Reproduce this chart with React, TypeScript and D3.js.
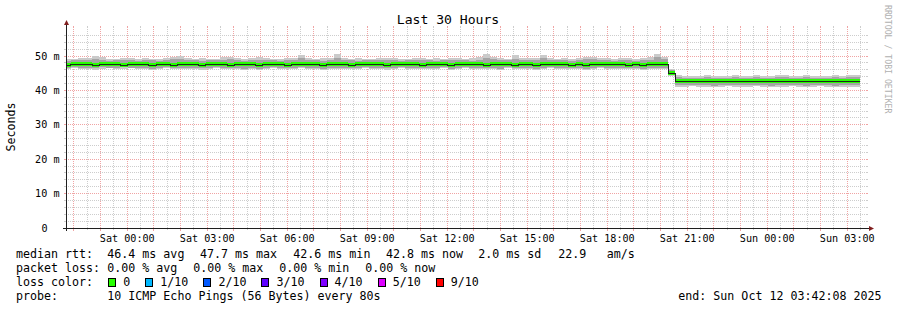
import React from "react";
import * as d3 from "d3";

// ---------- data ----------
const START = Date.UTC(2025, 9, 10, 21, 42, 8);
const END = Date.UTC(2025, 9, 12, 3, 42, 8);
const FIRST_BIN = Date.UTC(2025, 9, 10, 21, 36, 44);
const BIN_MS = 960 * 1000;

// median rtt per 16-minute bin (ms)
const medianRtt = [
  47.5, 47.7, 47.6, 47.6, 47.4, 47.6, 47.7, 47.6, 47.5, 47.6,
  47.6, 47.7, 47.4, 47.6, 47.6, 47.5, 47.7, 47.6, 47.6, 47.4,
  47.6, 47.6, 47.7, 47.5, 47.6, 47.6, 47.6, 47.4, 47.6, 47.7,
  47.6, 47.5, 47.6, 47.6, 47.7, 47.6, 47.4, 47.6, 47.6, 47.6,
  47.5, 47.6, 47.7, 47.6, 47.6, 47.4, 47.6, 47.6, 47.7, 47.6,
  47.5, 47.6, 47.6, 47.6, 47.4, 47.6, 47.7, 47.6, 47.6, 47.5,
  47.6, 47.6, 47.7, 47.5, 47.6, 47.6, 47.4, 47.6, 47.6, 47.7,
  47.6, 47.5, 47.6, 47.4, 47.6, 47.6, 47.7, 47.6, 47.6, 47.5,
  47.6, 47.4, 47.6, 47.7, 47.6,
  45.2,
  42.7, 42.6, 42.7, 42.7, 42.8, 42.6, 42.7, 42.7, 42.7, 42.6,
  42.8, 42.7, 42.7, 42.6, 42.7, 42.7, 42.8, 42.7, 42.6, 42.7,
  42.7, 42.7, 42.6, 42.7, 42.7, 42.8,
];

// smoke: outer pair (ping 1 / ping 10)
const smokeOuterHi = [
  49.1, 49.2, 49.3, 49.5, 50.0, 49.6, 49.2, 49.1, 49.3, 49.4,
  49.2, 49.3, 49.1, 49.2, 49.4, 49.8, 50.1, 49.4, 49.2, 49.3,
  49.1, 49.2, 49.6, 49.7, 49.3, 49.2, 49.4, 49.6, 49.5, 49.2,
  49.1, 49.3, 49.5, 50.4, 49.4, 49.2, 49.3, 49.4, 50.6, 49.5,
  49.2, 49.3, 49.1, 49.2, 49.4, 49.5, 49.3, 49.2, 49.1, 49.3,
  49.4, 49.2, 49.3, 49.2, 49.4, 49.5, 49.2, 49.3, 49.6, 50.5,
  49.7, 49.3, 49.2, 50.2, 49.4, 49.3, 49.5, 50.3, 49.4, 49.2,
  49.3, 49.2, 49.4, 49.7, 49.8, 49.5, 49.3, 49.2, 49.3, 49.5,
  49.2, 49.4, 49.6, 50.6, 49.8,
  46.1,
  44.4, 44.2, 44.3, 44.2, 44.4, 44.3, 44.1, 44.2, 44.5, 44.3,
  44.2, 44.4, 44.3, 44.2, 44.5, 44.4, 44.2, 44.3, 44.4, 44.2,
  44.3, 44.2, 44.4, 44.3, 44.5, 44.4,
];
const smokeOuterLo = [
  46.3, 46.4, 46.2, 46.1, 46.0, 46.3, 46.4, 46.2, 46.3, 46.4,
  46.2, 46.3, 46.0, 46.3, 46.4, 46.2, 46.3, 46.1, 46.3, 46.0,
  46.3, 46.4, 46.2, 46.1, 46.3, 46.0, 46.2, 46.0, 46.3, 46.4,
  46.3, 46.1, 46.3, 46.4, 46.1, 46.3, 45.9, 46.3, 46.1, 46.3,
  46.1, 46.3, 46.4, 46.3, 46.2, 46.0, 46.3, 46.4, 46.3, 46.2,
  46.1, 46.3, 46.3, 46.4, 46.0, 46.3, 46.4, 46.2, 46.3, 46.1,
  46.3, 46.0, 46.4, 46.1, 46.3, 46.2, 46.0, 46.3, 46.4, 46.3,
  46.2, 46.1, 46.3, 46.0, 46.3, 46.4, 46.3, 46.2, 46.3, 46.1,
  46.3, 46.0, 46.2, 46.3, 46.2,
  44.3,
  41.1, 41.0, 41.2, 41.1, 41.0, 40.9, 41.1, 41.2, 41.0, 40.9,
  41.1, 41.2, 41.0, 40.9, 41.1, 41.0, 41.2, 40.9, 40.9, 41.1,
  41.2, 41.0, 40.9, 41.1, 40.9, 41.0,
];
// smoke: second pair (ping 2 / ping 9)
const smokeMidHi = [
  48.6, 48.7, 48.7, 48.9, 49.2, 48.8, 48.6, 48.7, 48.8, 48.7,
  48.6, 48.8, 48.7, 48.6, 48.8, 49.0, 49.1, 48.8, 48.7, 48.6,
  48.7, 48.7, 48.9, 49.0, 48.7, 48.6, 48.8, 48.9, 48.8, 48.7,
  48.6, 48.7, 48.8, 49.4, 48.8, 48.7, 48.6, 48.8, 49.5, 48.9,
  48.7, 48.6, 48.7, 48.7, 48.8, 48.9, 48.7, 48.6, 48.7, 48.8,
  48.7, 48.7, 48.6, 48.7, 48.8, 48.8, 48.7, 48.6, 48.9, 49.4,
  49.0, 48.7, 48.7, 49.2, 48.8, 48.7, 48.8, 49.3, 48.8, 48.7,
  48.7, 48.6, 48.8, 49.0, 49.0, 48.8, 48.7, 48.6, 48.7, 48.9,
  48.6, 48.7, 48.9, 49.6, 49.1,
  45.8,
  43.8, 43.7, 43.7, 43.6, 43.8, 43.7, 43.6, 43.7, 43.9, 43.7,
  43.7, 43.8, 43.7, 43.6, 43.9, 43.8, 43.7, 43.7, 43.8, 43.7,
  43.7, 43.6, 43.8, 43.7, 43.9, 43.8,
];
const smokeMidLo = [
  46.6, 46.7, 46.5, 46.6, 46.4, 46.7, 46.6, 46.5, 46.7, 46.6,
  46.5, 46.6, 46.3, 46.6, 46.7, 46.5, 46.6, 46.4, 46.6, 46.4,
  46.6, 46.7, 46.5, 46.4, 46.6, 46.3, 46.5, 46.3, 46.6, 46.7,
  46.6, 46.4, 46.6, 46.7, 46.5, 46.6, 46.3, 46.6, 46.5, 46.6,
  46.4, 46.6, 46.7, 46.6, 46.5, 46.4, 46.6, 46.7, 46.6, 46.5,
  46.4, 46.6, 46.6, 46.7, 46.3, 46.6, 46.7, 46.5, 46.6, 46.4,
  46.6, 46.3, 46.7, 46.4, 46.6, 46.5, 46.3, 46.6, 46.7, 46.6,
  46.5, 46.4, 46.6, 46.3, 46.6, 46.7, 46.6, 46.5, 46.6, 46.4,
  46.6, 46.3, 46.5, 46.6, 46.5,
  44.8,
  41.6, 41.5, 41.7, 41.6, 41.6, 41.4, 41.6, 41.7, 41.6, 41.5,
  41.6, 41.7, 41.5, 41.4, 41.6, 41.6, 41.7, 41.5, 41.4, 41.6,
  41.7, 41.6, 41.4, 41.6, 41.5, 41.6,
];

const yMajorTicks = [0, 10, 20, 30, 40, 50];
const yTickLabels = ["0", "10 m", "20 m", "30 m", "40 m", "50 m"];

const titleText = "Last 30 Hours";
const yAxisTitle = "Seconds";
const watermark = "RRDTOOL / TOBI OETIKER";

const medianStats = ["46.4 ms avg", "47.7 ms max", "42.6 ms min", "42.8 ms now", "2.0 ms sd", "22.9", "am/s"];
const lossStats = ["0.00 % avg", "0.00 % max", "0.00 % min", "0.00 % now"];
const lossLabels = ["0", "1/10", "2/10", "3/10", "4/10", "5/10", "9/10"];
const lossColors = ["#26ff00", "#00b8ff", "#0059ff", "#5e00ff", "#7e00ff", "#dd00ff", "#ff0000"];
const probeText = "10 ICMP Echo Pings (56 Bytes) every 80s";
const endText = "end: Sun Oct 12 03:42:08 2025";

// ---------- layout ----------
const W = 897;
const H = 310;
const X0 = 66;
const X1 = 866;
const Y0 = 228;
const Y1 = 28;
const FONT = "'DejaVu Sans Mono', monospace";
const GRID = "#cdcdcd";
const MGRID = "#f0a4a4";
const AXIS = "#1f1f1f";
const ARROW = "#801f1f";

const medianStatX = [107.3, 200, 293.3, 386, 478.3, 558.3, 606.7];
const lossStatX = [107.3, 193.3, 279.3, 365.3];
const CHAR_W = 7.02;

export default function App() {
  const x = d3.scaleUtc().domain([START, END]).range([X0, X1]);
  const y = d3.scaleLinear().domain([0, 200 / 3.44]).range([Y0, Y1]);

  const n = medianRtt.length;
  const pts = d3.range(n + 1).map((k) => {
    const i = Math.min(k, n - 1);
    return {
      t: FIRST_BIN + k * BIN_MS,
      m: medianRtt[i],
      oh: smokeOuterHi[i],
      ol: smokeOuterLo[i],
      mh: smokeMidHi[i],
      ml: smokeMidLo[i],
    };
  });

  const xs = (t: number) => x(t);
  const outerArea = d3
    .area<any>()
    .x((d) => xs(d.t))
    .y0((d) => Math.round(y(d.ol)))
    .y1((d) => Math.round(y(d.oh)))
    .curve(d3.curveStepAfter)(pts);
  const midArea = d3
    .area<any>()
    .x((d) => xs(d.t))
    .y0((d) => Math.round(y(d.ml)))
    .y1((d) => Math.round(y(d.mh)))
    .curve(d3.curveStepAfter)(pts);
  const lossBand = d3
    .area<any>()
    .x((d) => xs(d.t))
    .y0((d) => Math.round(y(d.m)) + 2)
    .y1((d) => Math.round(y(d.m)) - 2)
    .curve(d3.curveStepAfter)(pts);
  const medLine = d3
    .line<any>()
    .x((d) => xs(d.t))
    .y((d) => Math.round(y(d.m)) + 0.5)
    .curve(d3.curveStepAfter)(pts);

  const minorX = d3.utcMinute.every(30)!.range(new Date(START), new Date(END));
  const majorX = d3.utcHour.every(1)!.range(new Date(START), new Date(END));
  const labelX = d3.utcHour.every(3)!.range(new Date(START), new Date(END));
  const fmt = d3.utcFormat("%a %H:%M");

  const minorY = d3.range(2, 58, 2).filter((v) => v % 10 !== 0);

  const px = (v: number) => Math.floor(v) + 0.5;

  let lx = 108.3;
  const lossItems = lossLabels.map((lab, i) => {
    const item = { lab, color: lossColors[i], bx: lx };
    lx = lx + 15 + lab.length * CHAR_W + 15;
    return item;
  });

  return (
    <svg
      width={W}
      height={H}
      style={{ position: "absolute", left: 0, top: 0, background: "#fff" }}
      fontFamily={FONT}
    >
      <rect x={0} y={0} width={W} height={H} fill="#ffffff" />
      <text x={448} y={24} fontSize={13.1} textAnchor="middle" fill="#000">
        {titleText}
      </text>
      <text
        transform="translate(15,127) rotate(-90)"
        fontSize={11.65}
        textAnchor="middle"
        fill="#000"
      >
        {yAxisTitle}
      </text>
      <text transform="translate(885,5) rotate(90)" fontSize={8.2} fill="#b0b0b0">
        {watermark}
      </text>

      {/* grid */}
      <g shapeRendering="crispEdges">
        {minorY.map((v) => {
          const yy = px(y(v));
          return (
            <g key={"my" + v}>
              <line x1={X0 - 2} x2={X0} y1={yy} y2={yy} stroke={GRID} />
              <line x1={X1} x2={X1 + 2} y1={yy} y2={yy} stroke={GRID} />
              <line x1={X0} x2={X1} y1={yy} y2={yy} stroke={GRID} strokeDasharray="1,1" />
            </g>
          );
        })}
        {minorX
          .filter((d) => d.getUTCMinutes() !== 0)
          .map((d) => {
            const xx = px(x(d));
            return (
              <g key={"mx" + d.getTime()}>
                <line x1={xx} x2={xx} y1={Y0} y2={Y0 + 2} stroke={GRID} />
                <line x1={xx} x2={xx} y1={Y1 - 2} y2={Y1} stroke={GRID} />
                <line x1={xx} x2={xx} y1={Y0} y2={Y1} stroke={GRID} strokeDasharray="1,1" />
              </g>
            );
          })}
        {yMajorTicks.map((v) => {
          const yy = px(y(v));
          return (
            <g key={"My" + v}>
              <line x1={X0 - 2} x2={X0} y1={yy} y2={yy} stroke={MGRID} />
              <line x1={X1} x2={X1 + 2} y1={yy} y2={yy} stroke={MGRID} />
              <line x1={X0} x2={X1} y1={yy} y2={yy} stroke={MGRID} strokeDasharray="1,1" />
            </g>
          );
        })}
        {majorX.map((d) => {
          const xx = px(x(d));
          return (
            <g key={"Mx" + d.getTime()}>
              <line x1={xx} x2={xx} y1={Y0} y2={Y0 + 3} stroke={MGRID} />
              <line x1={xx} x2={xx} y1={Y1 - 2} y2={Y1} stroke={MGRID} />
              <line x1={xx} x2={xx} y1={Y0} y2={Y1} stroke={MGRID} strokeDasharray="1,1" />
            </g>
          );
        })}
      </g>

      {/* data */}
      <defs>
        <clipPath id="plotClip">
          <rect x={X0 + 1} y={Y1} width={X1 - X0 - 1} height={Y0 - Y1} />
        </clipPath>
      </defs>
      <g clipPath="url(#plotClip)" shapeRendering="crispEdges">
        <path d={outerArea || ""} fill="#cacaca" />
        <path d={midArea || ""} fill="#a4a4a4" />
        <path d={lossBand || ""} fill={lossColors[0]} />
        <path d={medLine || ""} fill="none" stroke="#202020" strokeWidth={1} />
      </g>

      {/* axes */}
      <g shapeRendering="crispEdges">
        <line x1={X0 - 3} x2={X1 + 3} y1={Y0 + 0.5} y2={Y0 + 0.5} stroke={AXIS} />
        <line x1={X0 + 0.5} x2={X0 + 0.5} y1={Y0 + 3} y2={Y1 - 4} stroke={AXIS} />
      </g>
      <path d={`M${X0 + 0.5},${Y1 - 8} L${X0 + 3},${Y1 - 3} L${X0 - 2},${Y1 - 3} Z`} fill={ARROW} />
      <path d={`M${X1 + 8},${Y0 + 0.5} L${X1 + 3},${Y0 - 2} L${X1 + 3},${Y0 + 3} Z`} fill={ARROW} />

      {/* y labels */}
      {yMajorTicks.map((v, i) => (
        <text
          key={"yl" + v}
          x={v === 0 ? 59.5 - 12 : 59.5}
          y={px(y(v)) + 3.5}
          fontSize={10.15}
          textAnchor="end"
          fill="#000"
        >
          {yTickLabels[i]}
        </text>
      ))}
      {/* x labels */}
      {labelX.map((d) => (
        <text
          key={"xl" + d.getTime()}
          x={x(d)}
          y={241.5}
          fontSize={10.15}
          textAnchor="middle"
          fill="#000"
        >
          {fmt(d)}
        </text>
      ))}

      {/* legend */}
      <g fontSize={11.65} fill="#000">
        <text x={16} y={258}>median rtt:</text>
        {medianStats.map((s, i) => (
          <text key={"ms" + i} x={medianStatX[i]} y={258}>{s}</text>
        ))}
        <text x={16} y={272}>packet loss:</text>
        {lossStats.map((s, i) => (
          <text key={"ls" + i} x={lossStatX[i]} y={272}>{s}</text>
        ))}
        <text x={16} y={286}>loss color:</text>
        {lossItems.map((it) => (
          <g key={"lc" + it.lab}>
            <rect
              x={Math.round(it.bx) + 0.5}
              y={278.5}
              width={7}
              height={8}
              fill={it.color}
              stroke="#000"
              shapeRendering="crispEdges"
            />
            <text x={it.bx + 15} y={286}>{it.lab}</text>
          </g>
        ))}
        <text x={16} y={300}>probe:</text>
        <text x={107.3} y={300}>{probeText}</text>
        <text x={678.3} y={300}>{endText}</text>
      </g>
    </svg>
  );
}
